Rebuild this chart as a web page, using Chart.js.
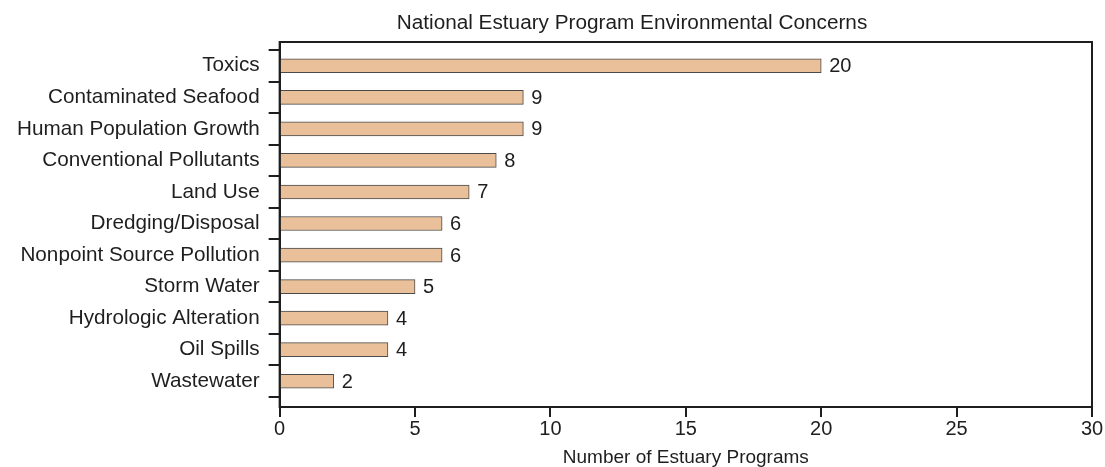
<!DOCTYPE html>
<html>
<head>
<meta charset="utf-8">
<script src="https://cdn.jsdelivr.net/npm/chart.js@4.4.0/dist/chart.umd.min.js"></script>
<style>
html,body{margin:0;padding:0;background:#fff;}
#wrap{width:1105px;height:467px;position:relative;}
</style>
</head>
<body>
<div id="wrap"><canvas id="c" width="1105" height="467"></canvas></div>
<script>
const categories = ["Toxics","Contaminated Seafood","Human Population Growth","Conventional Pollutants","Land Use","Dredging/Disposal","Nonpoint Source Pollution","Storm Water","Hydrologic Alteration","Oil Spills","Wastewater"];
const values = [20,9,9,8,7,6,6,5,4,4,2];
const xTicks = [0,5,10,15,20,25,30];
const titleText = "National Estuary Program Environmental Concerns";
const xTitle = "Number of Estuary Programs";

const FONT = "'Liberation Sans', Arial, sans-serif";
const INK = "#1e1e1e";

const points = values.map((v,i)=>({x:v,y:i}));

const framePlugin = {
  id:'frame',
  afterLayout(chart){
    if (chart.titleBlock){ chart.titleBlock.left = 172; chart.titleBlock.right = 1092; }
  },
  afterDatasetsDraw(chart){
    const {ctx, chartArea:a} = chart;
    ctx.save();
    ctx.strokeStyle = INK;
    ctx.lineWidth = 2;
    ctx.strokeRect(a.left, a.top, a.right-a.left, a.bottom-a.top);
    const meta = chart.getDatasetMeta(0);
    ctx.fillStyle = INK;
    ctx.font = "20px " + FONT;
    ctx.textAlign = 'left';
    ctx.textBaseline = 'middle';
    meta.data.forEach((bar,i)=>{
      ctx.fillText(String(values[i]), bar.x + 8, bar.y + 1);
    });
    ctx.restore();
  }
};

new Chart(document.getElementById('c'), {
  type:'bar',
  data:{
    datasets:[{
      data: points,
      backgroundColor:'#E9C09A',
      borderColor:'#4a4a4a',
      borderWidth:1,
      barThickness:14
    }]
  },
  options:{
    indexAxis:'y',
    responsive:false,
    animation:false,
    devicePixelRatio:1,
    layout:{padding:{left:8,right:13,top:0,bottom:0}},
    plugins:{
      legend:{display:false},
      tooltip:{enabled:false},
      title:{display:true,text:titleText,color:INK,font:{family:FONT,size:20.75,weight:'normal'},padding:{top:10.5,bottom:6.6}}
    },
    scales:{
      x:{
        type:'linear',min:0,max:30,bounds:'data',offset:false,
        afterBuildTicks(s){ s.ticks = xTicks.map(v=>({value:v})); },
        grid:{display:true,offset:false,drawOnChartArea:false,drawTicks:true,tickLength:10,color:INK,lineWidth:2},
        border:{display:true,color:INK,width:2},
        ticks:{color:INK,font:{family:FONT,size:20},padding:0,maxRotation:0},
        title:{display:true,text:xTitle,color:INK,font:{family:FONT,size:19},padding:{top:5.6,bottom:-2.4}}
      },
      y:{
        type:'linear',reverse:true,bounds:'data',offset:false,
        min:-0.754,max:10.817,
        afterBuildTicks(s){
          const t=[];
          for(let i=0;i<categories.length;i++){ t.push({value:i-0.5}); t.push({value:i}); }
          t.push({value:categories.length-0.5});
          s.ticks=t;
        },
        grid:{display:true,offset:false,drawOnChartArea:false,drawTicks:true,tickLength:11,lineWidth:2,
          color:(c)=>{ const v=c.tick?c.tick.value:0; return Number.isInteger(v)?'rgba(0,0,0,0)':INK; }},
        border:{display:true,color:INK,width:2},
        ticks:{autoSkip:false,color:INK,font:{family:FONT,size:20.7},padding:9,
          callback:(v)=>Number.isInteger(v)?categories[v]:''}
      }
    }
  },
  plugins:[framePlugin]
});
</script>
</body>
</html>
